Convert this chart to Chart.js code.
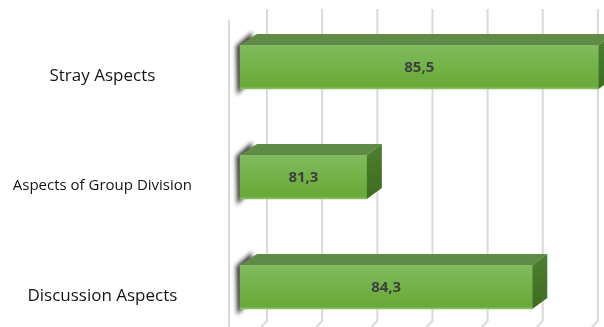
<!DOCTYPE html>
<html>
<head>
<meta charset="utf-8">
<title>Aspects</title>
<script src="https://cdn.jsdelivr.net/npm/chart.js@4/dist/chart.umd.min.js"></script>
<style>
    html, body { margin: 0; padding: 0; background: #fff; }
    #aspects-chart { display: block; }
</style>
</head>
<body>
<canvas id="aspects-chart" width="604" height="327"></canvas>
<script>
(function() {
    'use strict';

    var categories = ['Stray Aspects', 'Aspects of Group Division', 'Discussion Aspects'];
    var scores = [85.5, 81.3, 84.3];
    var axisMin = 79;
    var axisMax = 85.6;

    // fake 3d: depth of each bar and of the back wall behind the bars
    var barDx = 15, barDy = 11;
    var wallDx = 27;

    function fmt(v) {
        return v.toFixed(1).replace('.', ',');
    }

    function frontFill(c) {
        var chart = c.chart;
        var ys = chart.scales.y;
        if (!ys || !chart.chartArea) return '#72b046';
        var cy = ys.getPixelForValue(c.dataIndex);
        var g = chart.ctx.createLinearGradient(0, cy - 22, 0, cy + 22);
        g.addColorStop(0, '#80bb5e');
        g.addColorStop(0.5, '#73b247');
        g.addColorStop(0.94, '#68a938');
        g.addColorStop(1, '#8cc46a');
        return g;
    }

    var backWall = {
        id: 'backWall',
        beforeDatasetsDraw: function(chart) {
            var ctx = chart.ctx;
            var xs = chart.scales.x;
            var h = chart.height;
            ctx.save();
            ctx.strokeStyle = '#dadada';
            ctx.lineWidth = 2;
            // left edge of the side wall
            var lx = xs.left - (38 - wallDx);
            ctx.beginPath();
            ctx.moveTo(lx, 20);
            ctx.lineTo(lx, h);
            ctx.stroke();
            for (var v = Math.ceil(xs.min); v <= xs.max + 0.001; v++) {
                var gx = xs.getPixelForValue(v) + wallDx;
                ctx.beginPath();
                ctx.moveTo(gx, 9);
                ctx.lineTo(gx, h - 6);
                ctx.lineTo(gx - 6, h);
                ctx.stroke();
            }
            // soft shadow left of every bar
            var meta = chart.getDatasetMeta(0);
            meta.data.forEach(function(bar) {
                var p = bar.getProps(['x', 'y', 'base', 'height'], true);
                var top = p.y - p.height / 2, bot = p.y + p.height / 2;
                ctx.save();
                ctx.filter = 'blur(2px)';
                ctx.fillStyle = '#3c3c3c';
                ctx.beginPath();
                ctx.moveTo(p.base - 4, top + 1);
                ctx.lineTo(p.base + barDx - 3, top - barDy - 2);
                ctx.lineTo(p.base + barDx - 3, bot - barDy);
                ctx.lineTo(p.base - 3, bot + 6);
                ctx.closePath();
                ctx.fill();
                ctx.restore();
            });
            ctx.restore();
        }
    };

    var barFaces = {
        id: 'barFaces',
        afterDatasetsDraw: function(chart) {
            var ctx = chart.ctx;
            var meta = chart.getDatasetMeta(0);
            ctx.save();
            meta.data.forEach(function(bar, i) {
                var p = bar.getProps(['x', 'y', 'base', 'height'], true);
                var top = p.y - p.height / 2, bot = p.y + p.height / 2;

                // top face
                ctx.fillStyle = '#5f8b46';
                ctx.beginPath();
                ctx.moveTo(p.base, top);
                ctx.lineTo(p.base + barDx + 2, top - barDy);
                ctx.lineTo(p.x + barDx, top - barDy);
                ctx.lineTo(p.x, top);
                ctx.closePath();
                ctx.fill();

                // right face
                var g = ctx.createLinearGradient(0, top - barDy, 0, bot);
                g.addColorStop(0, '#4d8030');
                g.addColorStop(1, '#3d6c1d');
                ctx.fillStyle = g;
                ctx.beginPath();
                ctx.moveTo(p.x, top);
                ctx.lineTo(p.x + barDx, top - barDy);
                ctx.lineTo(p.x + barDx, bot - barDy);
                ctx.lineTo(p.x, bot);
                ctx.closePath();
                ctx.fill();

                // value label on the front face
                ctx.fillStyle = '#3f3f3f';
                ctx.font = 'bold 15px "Open Sans", sans-serif';
                ctx.textAlign = 'center';
                ctx.textBaseline = 'middle';
                ctx.fillText(fmt(scores[i]), (p.x + p.base) / 2, p.y + 1);
            });
            ctx.restore();
        }
    };

    new Chart(document.getElementById('aspects-chart'), {
        type: 'bar',
        data: {
            labels: categories,
            datasets: [{
                data: scores,
                base: axisMin,
                backgroundColor: frontFill,
                borderWidth: 0,
                barThickness: 44,
                clip: false
            }]
        },
        plugins: [backWall, barFaces],
        options: {
            indexAxis: 'y',
            responsive: false,
            animation: false,
            devicePixelRatio: 1,
            layout: { padding: { top: 67, bottom: 40, left: 0, right: 0 } },
            plugins: { legend: { display: false }, tooltip: { enabled: false } },
            scales: {
                x: {
                    display: false,
                    min: axisMin,
                    max: axisMax,
                    ticks: { stepSize: 1 }
                },
                y: {
                    offset: false,
                    grid: { display: false },
                    border: { display: false },
                    afterFit: function(scale) {
                        scale.width = 240;
                        scale.paddingTop = 0;
                        scale.paddingBottom = 0;
                    },
                    ticks: {
                        color: '#151515',
                        padding: 40,
                        crossAlign: 'center',
                        labelOffset: 9,
                        font: function(c) {
                            return { family: '"Open Sans", sans-serif', size: c.index === 1 ? 15 : 17 };
                        }
                    }
                }
            }
        }
    });
})();
</script>
</body>
</html>
